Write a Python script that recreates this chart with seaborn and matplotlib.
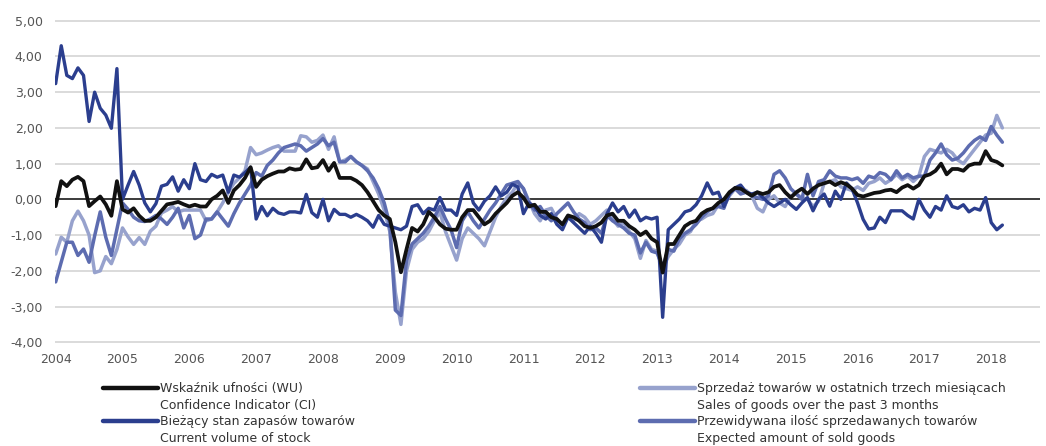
import numpy as np
import pandas as pd
import matplotlib
matplotlib.use("Agg")
import matplotlib.pyplot as plt
import seaborn as sns
from matplotlib.lines import Line2D
from matplotlib.ticker import FuncFormatter

# monthly values, Jan 2004 .. Mar 2018
start_year = 2004
year_ticks = list(range(2004, 2019))
y_ticks = [-4, -3, -2, -1, 0, 1, 2, 3, 4, 5]

ci = [
    -0.19, 0.51, 0.37, 0.55, 0.63, 0.51, -0.19, -0.05, 0.08, -0.14, -0.46, 0.51,
    -0.28, -0.37, -0.25, -0.46, -0.6, -0.6, -0.5, -0.32, -0.14, -0.11, -0.07, -0.14,
    -0.2, -0.15, -0.2, -0.2, 0.0, 0.1, 0.25, -0.1, 0.25, 0.4, 0.6, 0.9,
    0.35, 0.55, 0.65, 0.72, 0.78, 0.78, 0.87, 0.83, 0.85, 1.12, 0.87, 0.9,
    1.1, 0.8, 1.02, 0.6, 0.6, 0.6, 0.52, 0.4, 0.2, -0.05, -0.3, -0.45,
    -0.55, -1.2, -2.04, -1.4, -0.8, -0.9, -0.7, -0.35, -0.5, -0.7, -0.82, -0.85,
    -0.85, -0.5, -0.3, -0.3, -0.5, -0.7, -0.6, -0.4, -0.25, -0.1, 0.1, 0.2,
    0.05, -0.2, -0.15, -0.35, -0.35, -0.5, -0.55, -0.7, -0.45, -0.5, -0.6, -0.75,
    -0.8, -0.75, -0.65, -0.45, -0.4, -0.6, -0.6, -0.75, -0.85, -1.0, -0.9, -1.1,
    -1.2, -2.05, -1.25, -1.25, -1.0, -0.75, -0.65, -0.6, -0.4, -0.3, -0.25, -0.1,
    0.0, 0.2, 0.32, 0.3, 0.2, 0.1, 0.2, 0.15, 0.2, 0.35, 0.4, 0.2,
    0.05, 0.2, 0.3, 0.15, 0.3, 0.4, 0.45, 0.5, 0.4, 0.48, 0.42, 0.3,
    0.12, 0.08, 0.13, 0.18, 0.2, 0.25, 0.27, 0.2, 0.33, 0.4, 0.3, 0.4,
    0.65, 0.7, 0.8, 1.0, 0.7, 0.85, 0.85, 0.8, 0.95, 1.0, 1.0, 1.35,
    1.1, 1.05, 0.95,
]

sales = [
    -1.53, -1.06, -1.2, -0.6, -0.33, -0.6, -1.0, -2.05, -2.0, -1.6, -1.8, -1.4,
    -0.8, -1.05, -1.26, -1.07, -1.26, -0.89, -0.75, -0.38, -0.3, -0.2, -0.35, -0.3,
    -0.3, -0.3, -0.3, -0.6, -0.55, -0.35, -0.1, 0.2, 0.45, 0.6, 0.8, 1.45,
    1.25, 1.3, 1.38, 1.45, 1.5, 1.35, 1.35, 1.35, 1.78, 1.75, 1.6, 1.65,
    1.8, 1.4, 1.75, 1.05, 1.1, 1.2, 1.05, 0.95, 0.85, 0.5, 0.15, -0.3,
    -0.9, -2.6, -3.5, -2.0, -1.4, -1.2, -1.1, -0.9, -0.6, -0.35, -0.9, -1.3,
    -1.7, -1.1, -0.8, -0.95, -1.1, -1.3, -0.9, -0.5, -0.2, 0.05, 0.2, 0.45,
    0.3, -0.05, -0.4, -0.6, -0.3, -0.25, -0.55, -0.75, -0.45, -0.6, -0.4, -0.5,
    -0.7, -0.6, -0.45, -0.3, -0.55, -0.75, -0.65, -0.9, -1.1, -1.65, -1.15, -1.4,
    -1.45, -1.95, -1.6, -1.4, -1.25, -1.0, -0.9, -0.6, -0.55, -0.45, -0.4, -0.15,
    -0.2, 0.1, 0.3, 0.2, 0.25, 0.1, -0.25, -0.35, 0.0, 0.1, -0.1, -0.2,
    0.1, 0.15, 0.05, 0.0, -0.2, -0.05, 0.45, 0.5, 0.55, 0.35, 0.3, 0.25,
    0.35, 0.25, 0.45, 0.5, 0.6, 0.45, 0.55, 0.7, 0.55, 0.65, 0.5, 0.65,
    1.2, 1.4, 1.35, 1.3, 1.4, 1.3, 1.1, 1.0, 1.2, 1.4, 1.6, 1.8,
    1.85, 2.35, 2.0,
]

stock = [
    3.24, 4.3, 3.47, 3.38, 3.68, 3.47, 2.18, 3.0, 2.55, 2.36, 1.99, 3.66,
    0.0, 0.4, 0.78, 0.4, -0.1, -0.35, -0.12, 0.37, 0.42, 0.63, 0.23, 0.55,
    0.3, 1.0, 0.55, 0.5, 0.7, 0.62, 0.68, 0.2, 0.68, 0.62, 0.75, 0.9,
    -0.55, -0.2, -0.46, -0.25, -0.38, -0.42, -0.35, -0.35, -0.38, 0.14, -0.37, -0.5,
    0.0, -0.6, -0.28, -0.42, -0.42, -0.5, -0.42, -0.5, -0.6, -0.78, -0.45, -0.7,
    -0.75, -0.8, -0.85, -0.75, -0.2, -0.15, -0.4, -0.25, -0.3, 0.05, -0.3, -0.3,
    -0.45, 0.15, 0.46, -0.1, -0.3, -0.05, 0.1, 0.35, 0.1, 0.2, 0.42, 0.35,
    -0.4, -0.1, -0.2, -0.45, -0.55, -0.4, -0.7, -0.85, -0.5, -0.65, -0.8, -0.95,
    -0.75, -0.95, -1.2, -0.4, -0.1, -0.35, -0.2, -0.5, -0.3, -0.6, -0.5, -0.55,
    -0.5, -3.3, -0.85, -0.7, -0.55, -0.35, -0.3, -0.15, 0.1, 0.46, 0.15, 0.2,
    -0.2, 0.15, 0.32, 0.4, 0.2, 0.15, 0.2, 0.05, -0.1, -0.2, -0.1, 0.0,
    -0.15, -0.28, -0.1, 0.05, -0.32, 0.0, 0.15, -0.19, 0.23, 0.0, 0.46, 0.3,
    -0.1, -0.56, -0.83, -0.8, -0.5, -0.65, -0.32, -0.32, -0.32, -0.45, -0.55, 0.0,
    -0.3, -0.5, -0.2, -0.3, 0.1, -0.2, -0.25, -0.15, -0.35, -0.25, -0.3, 0.05,
    -0.65, -0.85, -0.72,
]

expected = [
    -2.31, -1.76, -1.2, -1.2, -1.57, -1.39, -1.76, -1.02, -0.35, -1.06, -1.57, -0.83,
    -0.1, -0.28, -0.5, -0.6, -0.62, -0.55, -0.45, -0.55, -0.7, -0.5, -0.25, -0.8,
    -0.45, -1.1, -1.0, -0.55, -0.55, -0.35, -0.55, -0.75, -0.4, -0.1, 0.15, 0.4,
    0.75, 0.65, 0.95, 1.1, 1.3, 1.45, 1.5, 1.55, 1.5, 1.35, 1.45, 1.55,
    1.7, 1.5, 1.6, 1.05, 1.05, 1.2, 1.05, 0.95, 0.8, 0.6, 0.3, -0.1,
    -0.7, -3.1, -3.25, -1.7, -1.25, -1.1, -0.95, -0.75, -0.5, -0.2, -0.55, -0.85,
    -1.35, -0.6, -0.35, -0.6, -0.8, -0.55, -0.3, -0.1, 0.15, 0.4, 0.45, 0.5,
    0.3, -0.1, -0.3, -0.2, -0.45, -0.6, -0.4, -0.25, -0.1, -0.35, -0.55, -0.65,
    -0.85, -0.8, -0.95, -0.45, -0.6, -0.7, -0.8, -0.95, -1.0, -1.5, -1.2, -1.45,
    -1.5, -1.9, -1.4, -1.45, -1.1, -0.95, -0.85, -0.7, -0.5, -0.35, -0.25, -0.2,
    -0.25, 0.2, 0.3, 0.15, 0.2, 0.1, 0.05, 0.0, 0.1, 0.7, 0.8, 0.6,
    0.3, 0.15, 0.0, 0.7, 0.1, 0.5, 0.55, 0.8, 0.65, 0.6, 0.6, 0.55,
    0.6, 0.45, 0.65, 0.6, 0.75, 0.7, 0.55, 0.8, 0.6, 0.7, 0.6, 0.65,
    0.65, 1.1, 1.3, 1.55, 1.25, 1.1, 1.15, 1.3, 1.5, 1.65, 1.75, 1.65,
    2.04, 1.8, 1.6,
]

labels = {
    "ci": "Wskaźnik ufności (WU)\nConfidence Indicator (CI)",
    "stock": "Bieżący stan zapasów towarów\nCurrent volume of stock",
    "sales": "Sprzedaż towarów w ostatnich trzech miesiącach\nSales of goods over the past 3 months",
    "expected": "Przewidywana ilość sprzedawanych towarów\nExpected amount of sold goods",
}
colors = {
    "sales": "#97a2cd",
    "expected": "#5d6cb0",
    "stock": "#2b3e8e",
    "ci": "#111111",
}

months = np.arange(len(ci))
df = pd.DataFrame({
    "x": start_year + months / 12.0,
    "ci": ci,
    "sales": sales,
    "stock": stock,
    "expected": expected,
})

sns.set_style("white")
plt.rcParams["font.family"] = ["Liberation Sans Narrow", "DejaVu Sans"]

fig = plt.figure(figsize=(10.46, 4.46), dpi=100)
ax = fig.add_axes([55 / 1046, 1 - 343 / 446, 985 / 1046, 323 / 446])

# grid first, then the zero line
for v in y_ticks:
    ax.axhline(v, color="#dadada", lw=1.4, zorder=0)
ax.axhline(0, color="#111111", lw=1.1, zorder=1)

# draw order: light lines first, confidence indicator on top
for key, lw in [("sales", 2.5), ("expected", 2.5), ("stock", 2.4), ("ci", 2.7)]:
    sns.lineplot(data=df, x="x", y=key, color=colors[key], linewidth=lw,
                 ax=ax, legend=False, zorder=3)

ax.set_xlim(2003.99, 2018.73)
ax.set_ylim(-4.02, 5.02)
ax.set_xticks(year_ticks)
ax.set_xticklabels([str(y) for y in year_ticks])
ax.set_yticks(y_ticks)
ax.yaxis.set_major_formatter(FuncFormatter(lambda v, p: f"{v:.2f}".replace(".", ",")))
ax.tick_params(axis="both", length=0, labelsize=9, colors="#555555")
ax.tick_params(axis="x", pad=7)
ax.tick_params(axis="y", pad=9)
ax.set_xlabel("")
ax.set_ylabel("")
for s in ax.spines.values():
    s.set_visible(False)

def legend_column(keys, x_px):
    handles, texts = [], []
    for k in keys:
        pl, en = labels[k].split("\n")
        handles.append(Line2D([], [], color=colors[k], lw=3.2))
        texts.append(pl)
        handles.append(Line2D([], [], color="none", lw=0))
        texts.append(en)
    leg = fig.legend(handles, texts, loc="upper left",
                     bbox_to_anchor=(x_px / 1046, 1 - 382 / 446),
                     frameon=False, fontsize=9.0, handlelength=4.4,
                     handletextpad=0.15, labelspacing=0.3,
                     borderpad=0, borderaxespad=0)
    for t in leg.get_texts():
        t.set_color("#333333")
    return leg

legend_column(["ci", "stock"], 103)
legend_column(["sales", "expected"], 640)

fig.savefig("out.png", dpi=100)
